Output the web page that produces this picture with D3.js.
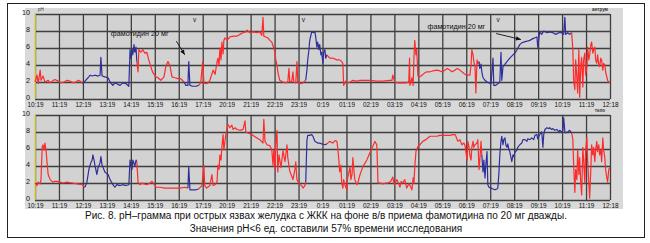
<!DOCTYPE html>
<html>
<head>
<meta charset="utf-8">
<script src="https://cdn.jsdelivr.net/npm/d3@7"></script>
<style>
    html, body { margin: 0; padding: 0; background: #fff; }
    svg { display: block; font-family: "Liberation Sans", Arial, sans-serif; }
    .grid line { stroke: #3f3f3f; stroke-width: 1.3; }
    .grid path { display: none; }
    .ticks path, .ticks line { display: none; }
    .ticks text { fill: #111; }
    .trace { fill: none; stroke-width: 1.2; stroke-linejoin: round; }
</style>
</head>
<body>
<svg id="chart" width="650" height="243"></svg>
<script>
// time labels, one per hour from the start of the study
const timeLabels = ["10:19", "11:19", "12:19", "13:19", "14:19", "15:19", "16:19", "17:19", "20:19",
    "21:19", "22:19", "23:19", "0:19", "01:19", "02:19", "03:19", "04:19", "05:19", "06:19", "07:19",
    "08:19", "09:19", "10:19", "11:19", "12:18"];
const phTicks = [0, 2, 4, 6, 8, 10];

// antrum (top), [minutes from start, pH]
const antrumR1 = [[0,2.0],[5,2.8],[8,1.8],[13,3.4],[15,2.2],[20,2.7],[25,2.0],[33,2.2],[38,1.9],[43,2.1],[50,2.3],[58,2.1],[65,1.9],[73,2.0],[80,2.2],[88,2.1],[95,1.9],[103,2.0],[108,2.2],[113,2.1],[120,1.8]];
const antrumB1 = [[120,1.8],[125,2.1],[133,2.5],[138,2.8],[143,2.7],[150,2.8],[158,2.7],[163,2.8],[165,4.9],[168,2.7],[175,2.6],[183,2.5],[188,2.0],[195,1.6],[200,1.9],[205,1.8],[213,1.6],[220,1.9],[228,1.8],[235,1.5],[238,5.8],[240,4.8],[243,5.8],[245,5.2],[248,6.4],[250,5.5],[253,6.1],[255,4.4]];
const antrumR2 = [[255,4.4],[258,3.2],[260,5.8],[265,5.5],[270,5.8],[275,5.4],[280,5.5],[285,4.6],[290,3.8],[295,3.1],[303,2.6],[308,2.5],[315,2.2],[323,2.6],[328,3.9],[333,4.4],[338,3.9],[343,2.6],[350,2.5],[358,2.4],[365,2.4],[373,2.0]];
const antrumB2 = [[373,2.0],[378,1.6],[383,1.6],[385,4.4],[388,1.6],[395,1.5],[403,1.5],[410,1.6]];
const antrumR3 = [[410,1.6],[415,1.9],[420,4.4],[423,1.9],[428,1.8],[433,1.9],[438,2.2],[446,3.4],[451,2.9],[456,4.4],[458,4.8],[461,4.0],[463,6.0],[466,4.6],[468,6.7],[471,5.3],[473,6.9],[476,7.2],[481,6.9],[488,7.3],[498,7.4],[506,7.4],[513,7.6],[521,7.8],[528,7.9],[531,8.1],[538,7.8],[546,7.9],[556,7.8],[563,7.9],[568,7.5],[571,9.6],[573,7.4],[578,7.3],[583,7.2],[588,6.9],[593,6.7],[598,6.0],[601,5.5],[603,4.6],[606,4.0],[608,3.2],[613,2.2],[621,2.0],[628,1.9],[633,2.0],[636,3.6],[638,2.0],[643,2.1],[646,3.2],[648,2.0],[653,1.9],[656,4.4],[658,2.0],[663,1.9],[668,1.8],[673,2.0],[678,2.2]];
const antrumB3 = [[678,2.2],[681,3.4],[683,4.6],[686,5.8],[688,6.9],[691,7.5],[693,7.9],[698,7.8],[701,7.9],[703,7.3],[706,6.1],[708,6.7],[711,5.8],[713,6.4],[716,5.2],[718,5.5],[721,4.2],[723,5.5],[726,5.8],[728,4.8],[731,5.2]];
const antrumR4 = [[731,5.2],[738,4.8],[746,4.8],[756,4.6],[763,4.6],[768,4.4],[771,4.2],[773,1.6],[778,2.1],[783,1.9],[789,2.0],[796,2.2],[806,2.1],[814,2.2],[826,2.2],[839,2.2],[856,2.1],[871,2.1],[889,2.2],[894,2.2],[896,2.8],[901,2.0],[909,1.9],[919,1.9],[929,1.9],[936,2.0],[938,4.8],[939,1.6],[944,2.5],[947,1.6],[949,4.8],[951,6.9],[954,5.2],[956,5.8],[959,2.7],[964,2.6],[969,2.8],[977,3.1],[982,3.2],[989,3.2],[996,3.3],[1006,3.4],[1014,3.3],[1019,3.2],[1027,3.4],[1032,3.6],[1039,3.4],[1044,3.2],[1052,3.4],[1057,3.6],[1064,3.4],[1069,3.2],[1077,2.9],[1082,2.8],[1089,2.8],[1092,4.0],[1094,5.8],[1097,5.2],[1099,4.4],[1102,3.8],[1104,0.7],[1107,4.6],[1109,4.2],[1112,4.4]];
const antrumB4 = [[1112,4.4],[1114,3.6],[1117,4.1],[1119,3.2],[1122,2.5],[1127,2.2],[1132,2.0],[1137,1.9],[1142,1.8],[1147,4.8],[1149,1.6],[1154,1.6],[1159,1.8],[1164,2.0],[1167,5.5],[1169,2.2],[1172,3.8],[1177,4.1],[1182,4.4],[1189,4.8],[1197,5.2],[1202,5.4],[1207,5.8],[1214,6.4],[1219,6.6],[1224,6.7],[1232,6.8],[1239,6.9],[1247,7.1],[1252,7.2],[1257,7.3],[1259,6.1],[1262,7.2],[1264,7.9],[1269,7.6],[1274,8.0],[1282,7.8],[1289,7.9],[1297,7.8],[1304,7.6],[1312,7.8],[1319,7.8],[1324,7.6],[1327,9.6],[1329,7.6],[1334,7.8],[1339,7.6],[1344,7.8]];
const antrumR5 = [[1344,7.8],[1347,5.8],[1349,2.2],[1352,1.1],[1354,4.6],[1357,2.5],[1359,0.7],[1362,5.8],[1364,0.2],[1367,4.0],[1369,4.9],[1372,1.4],[1374,4.6],[1377,5.4],[1379,2.8],[1382,3.8],[1384,6.1],[1387,4.6],[1389,5.2],[1392,6.4],[1394,6.7],[1397,5.4],[1399,5.8],[1402,6.1],[1404,4.6],[1407,4.2],[1409,5.2],[1412,4.0],[1414,3.8],[1417,4.8],[1419,4.6],[1422,3.4],[1424,4.2],[1427,4.0],[1429,3.2],[1432,2.6],[1434,2.2],[1437,2.0],[1439,1.9]];

// body of the stomach (bottom)
const bodyR1 = [[0,2.0],[5,1.7],[8,2.1],[13,1.9],[15,2.4],[18,6.2],[20,6.5],[23,5.9],[25,6.7],[28,5.7],[30,4.5],[33,3.0],[38,2.4],[45,2.1],[50,2.2],[55,2.2],[63,2.1],[70,2.0],[80,2.1],[93,2.0],[105,1.9],[118,1.8],[125,1.5]];
const bodyB1 = [[125,1.5],[130,2.1],[135,3.6],[140,4.4],[143,4.7],[145,5.3],[148,4.7],[150,4.1],[155,3.0],[158,3.8],[163,4.4],[165,5.1],[168,4.1],[170,3.9],[175,3.3],[180,3.1],[183,3.0],[188,2.4],[193,2.0],[195,1.8],[200,1.5],[205,1.8],[213,1.7],[220,1.8],[228,1.7],[235,1.8],[238,4.7],[240,4.1],[243,3.6],[245,4.7],[248,4.3],[250,4.0],[253,4.7],[255,4.5]];
const bodyR2 = [[255,4.5],[258,2.1],[263,1.8],[268,2.0],[273,1.9],[280,1.8],[288,2.0],[293,2.2],[298,1.9],[303,1.5],[313,1.5],[325,1.4],[338,1.4],[350,1.4],[363,1.4],[375,1.5],[383,1.4]];
const bodyB2 = [[383,1.4],[385,3.9],[388,1.2],[395,1.2],[403,1.2],[410,1.3]];
const bodyR3 = [[410,1.3],[418,1.7],[423,4.1],[425,1.7],[430,1.4],[438,1.7],[443,3.0],[446,1.7],[451,1.8],[456,2.2],[458,4.1],[461,3.6],[463,5.3],[466,4.7],[468,6.2],[471,7.7],[473,5.9],[476,7.0],[478,7.7],[481,8.5],[483,8.9],[488,8.5],[493,8.8],[496,8.3],[501,8.5],[506,8.3],[513,8.2],[521,8.3],[526,9.3],[528,8.0],[533,7.9],[538,7.8],[546,7.6],[556,7.3],[563,7.1],[571,6.7],[573,9.5],[576,6.9],[581,6.5],[588,6.4],[593,5.9],[596,4.1],[598,5.9],[601,3.6],[603,6.5],[606,8.2],[608,3.3],[611,5.3],[616,3.8],[621,5.8],[626,4.5],[631,6.5],[633,5.0],[638,3.4],[643,2.8],[646,2.4],[651,3.6],[653,4.5],[656,2.4],[661,2.0],[663,1.8],[668,1.7],[671,1.4],[676,1.7],[678,2.1]];
const bodyB3 = [[678,2.1],[681,7.0],[683,7.6],[688,7.6],[693,7.7],[696,7.5],[701,6.9],[708,6.7],[713,6.7],[718,6.6],[726,6.5],[731,6.6]];
const bodyR4 = [[731,6.6],[738,6.9],[746,6.7],[751,7.0],[756,6.9],[758,6.2],[761,4.7],[763,3.3],[766,4.1],[768,2.1],[771,1.4],[773,2.4],[776,1.8],[781,1.2],[783,2.6],[789,3.9],[791,2.4],[794,3.0],[796,5.0],[799,3.3],[801,2.4],[806,1.8],[809,2.1],[814,3.0],[821,3.9],[831,4.7],[839,5.6],[846,6.3],[851,6.9],[856,6.5],[859,2.0],[864,2.0],[871,1.9],[879,2.0],[884,2.0],[891,2.2],[896,2.7],[899,1.9],[901,1.8],[906,2.4],[909,2.1],[914,1.5],[917,2.2],[921,2.0],[926,2.4],[931,1.4],[936,1.9],[939,1.7],[944,1.2],[947,2.6],[949,2.0],[951,3.8],[954,5.7],[959,6.3],[964,6.5],[971,6.9],[979,7.1],[984,7.3],[989,7.5],[996,7.5],[1006,7.5],[1014,7.6],[1022,7.6],[1032,7.6],[1039,7.6],[1047,7.7],[1052,7.7],[1054,7.5],[1059,6.9],[1064,7.1],[1069,6.5],[1074,6.7],[1077,6.4],[1079,5.7],[1082,4.7],[1084,6.9],[1087,6.2],[1089,5.3],[1092,4.7],[1094,6.2],[1097,6.9],[1099,6.2],[1102,6.5],[1107,6.7],[1109,7.1],[1112,3.6],[1114,4.7],[1117,6.9],[1119,5.3]];
const bodyB4 = [[1119,5.3],[1122,3.3],[1124,4.7],[1127,2.6],[1129,4.1],[1132,5.7],[1134,1.8],[1137,1.5],[1142,1.4],[1147,1.3],[1152,1.2],[1157,1.3],[1159,1.4],[1162,3.3],[1164,5.3],[1167,6.9],[1169,7.5],[1172,6.5],[1174,7.1],[1177,7.3],[1179,6.5],[1182,6.2],[1184,6.6],[1187,5.9],[1189,5.7],[1192,5.0],[1194,4.5],[1197,5.3],[1199,5.1],[1202,5.6],[1207,5.9],[1209,6.2],[1214,6.5],[1219,6.7],[1222,7.1],[1227,7.1],[1232,6.9],[1234,7.2],[1239,7.1],[1244,7.3],[1249,7.1],[1252,7.6],[1257,7.7],[1259,7.2],[1264,7.7],[1269,8.0],[1272,6.2],[1274,7.7],[1277,8.3],[1282,8.5],[1287,8.4],[1289,8.5],[1294,8.3],[1297,8.4],[1302,8.2],[1307,8.3],[1312,8.0],[1314,8.2],[1319,8.0],[1322,8.2],[1324,9.7],[1327,8.0],[1329,7.9],[1334,8.0],[1339,8.2],[1344,7.9]];
const bodyR5 = [[1344,7.9],[1347,7.1],[1349,4.1],[1352,0.9],[1354,3.6],[1357,2.4],[1359,5.9],[1362,3.0],[1364,5.0],[1367,1.8],[1369,0.6],[1372,6.2],[1374,4.7],[1377,2.0],[1379,5.9],[1382,7.3],[1384,4.7],[1387,2.0],[1389,0.2],[1392,3.6],[1394,6.5],[1397,5.3],[1399,6.2],[1402,4.5],[1404,5.9],[1407,6.9],[1409,5.7],[1412,6.5],[1414,5.3],[1417,5.9],[1419,4.5],[1422,7.3],[1424,5.9],[1427,5.0],[1429,3.6],[1432,2.6],[1434,2.1],[1437,3.6],[1439,3.8]];

const antrumSeries = [["red", antrumR1], ["blue", antrumB1], ["red", antrumR2], ["blue", antrumB2], ["red", antrumR3],
    ["blue", antrumB3], ["red", antrumR4], ["blue", antrumB4], ["red", antrumR5]];
const bodySeries = [["red", bodyR1], ["blue", bodyB1], ["red", bodyR2], ["blue", bodyB2], ["red", bodyR3],
    ["blue", bodyB3], ["red", bodyR4], ["blue", bodyB4], ["red", bodyR5]];

const captionLines = [
    "Рис. 8. рН–грамма при острых язвах желудка с ЖКК на фоне в/в приема фамотидина по 20 мг дважды.",
    "Значения рН<6 ед. составили 57% времени исследования"
];

(function () {
    const svg = d3.select("#chart");
    const colors = { red: "#ff2b2b", blue: "#2f2f9c" };

    // outer frame
    svg.append("rect")
        .attr("x", 7.5).attr("y", 3.5)
        .attr("width", 637).attr("height", 234)
        .attr("fill", "#fff").attr("stroke", "#222").attr("stroke-width", 1);

    svg.append("rect")
        .attr("x", 25).attr("y", 8)
        .attr("width", 598).attr("height", 201)
        .attr("fill", "#d9d9d9");

    const x = d3.scaleLinear().domain([0, 1440]).range([35, 610]);
    const hourTicks = d3.range(0, 1441, 60);

    const panels = [
        { series: antrumSeries, top: 14, bottom: 99, site: "антрум" },
        { series: bodySeries, top: 115, bottom: 200, site: "тело" }
    ];

    panels.forEach((p, pi) => {
        const y = d3.scaleLinear().domain([0, 10]).range([p.bottom, p.top]);
        const g = svg.append("g");

        g.append("rect")
            .attr("x", x(0)).attr("y", p.top)
            .attr("width", x(1440) - x(0)).attr("height", p.bottom - p.top)
            .attr("fill", "#d2d2d2");

        g.append("g")
            .attr("class", "grid")
            .attr("transform", `translate(0,${p.bottom})`)
            .call(d3.axisBottom(x).tickValues(hourTicks).tickSize(-(p.bottom - p.top)).tickFormat(""));

        g.append("g")
            .attr("class", "grid")
            .attr("transform", `translate(${x(0)},0)`)
            .call(d3.axisLeft(y).tickValues(phTicks).tickSize(-(x(1440) - x(0))).tickFormat(""));

        // start marker
        g.append("line")
            .attr("x1", x(0)).attr("x2", x(0))
            .attr("y1", p.top).attr("y2", p.bottom)
            .attr("stroke", "#e6dc5a").attr("stroke-width", 1.5);

        g.append("g")
            .attr("class", "ticks")
            .attr("transform", `translate(0,${p.bottom})`)
            .call(d3.axisBottom(x).tickValues(hourTicks).tickSize(0).tickPadding(3.5)
                .tickFormat((d, i) => timeLabels[i]))
            .selectAll("text")
            .style("font-size", "6.4px");

        g.append("g")
            .attr("class", "ticks")
            .attr("transform", `translate(${x(0)},-1.5)`)
            .call(d3.axisLeft(y).tickValues(phTicks).tickSize(0).tickPadding(5))
            .selectAll("text")
            .style("font-size", "7.2px");

        const line = d3.line().x(d => x(d[0])).y(d => y(d[1]));
        g.selectAll(".trace")
            .data(p.series)
            .enter().append("path")
            .attr("class", "trace")
            .attr("stroke", d => colors[d[0]])
            .attr("d", d => line(d[1]));

        g.append("text")
            .attr("x", 600).attr("y", p.top - 3)
            .attr("text-anchor", "middle")
            .style("font-size", "4.5px")
            .style("font-weight", "bold")
            .attr("fill", "#333")
            .text(p.site);

        if (pi === 0) {
            g.append("text")
                .attr("x", x(0) + 3).attr("y", p.top - 3)
                .style("font-size", "4.5px")
                .attr("fill", "#333")
                .text("pH");

            // drug annotations
            const notes = [
                { tx: 190, ty: 7.4, ax1: 354, ay1: 6.8, ax2: 375, ay2: 5.2 },
                { tx: 983, ty: 8.2, ax1: 1155, ay1: 7.7, ax2: 1217, ay2: 7.0 }
            ];
            notes.forEach(n => {
                g.append("text")
                    .attr("x", x(n.tx)).attr("y", y(n.ty))
                    .style("font-size", "7.2px")
                    .attr("fill", "#111")
                    .text("фамотидин 20 мг");
                const x1 = x(n.ax1), y1 = y(n.ay1), x2 = x(n.ax2), y2 = y(n.ay2);
                g.append("line")
                    .attr("x1", x1).attr("y1", y1).attr("x2", x2).attr("y2", y2)
                    .attr("stroke", "#111").attr("stroke-width", 0.9);
                const ang = Math.atan2(y2 - y1, x2 - x1);
                const hl = 5, hw = 2.2;
                const bx = x2 - hl * Math.cos(ang), by = y2 - hl * Math.sin(ang);
                g.append("path")
                    .attr("d", `M${x2},${y2}L${bx - hw * Math.sin(ang)},${by + hw * Math.cos(ang)}L${bx + hw * Math.sin(ang)},${by - hw * Math.cos(ang)}Z`)
                    .attr("fill", "#111");
            });

            [400, 672, 1160].forEach(m => {
                g.append("text")
                    .attr("x", x(m)).attr("y", p.top + 8)
                    .attr("text-anchor", "middle")
                    .style("font-size", "6.5px")
                    .attr("fill", "#222")
                    .text("v");
            });
        }
    });

    svg.selectAll(".caption")
        .data(captionLines)
        .enter().append("text")
        .attr("class", "caption")
        .attr("x", 326)
        .attr("y", (d, i) => 219 + i * 13)
        .attr("text-anchor", "middle")
        .style("font-size", "10px")
        .attr("fill", "#111")
        .text(d => d);
})();
</script>
</body>
</html>
